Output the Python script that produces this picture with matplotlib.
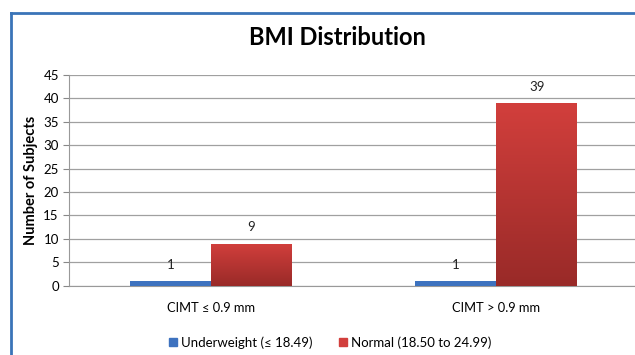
import numpy as np
import matplotlib.pyplot as plt
from matplotlib.colors import LinearSegmentedColormap
from matplotlib.patches import Patch

plt.rcParams['font.family'] = ['Lato', 'DejaVu Sans']

categories = ['CIMT \u2264 0.9 mm', 'CIMT > 0.9 mm']
underweight = [1, 1]
normal = [9, 39]
series_names = ['Underweight (\u2264 18.49)', 'Normal (18.50 to 24.99)']

blue = '#3d72bf'
red_top = '#d23f3c'
red_bottom = '#992a28'

fig = plt.figure(figsize=(6.35, 3.55), dpi=100)
ax = fig.add_axes([0.108, 0.195, 0.898, 0.594])

x = np.arange(len(categories))
w = 0.284
b1 = ax.bar(x - w / 2, underweight, w, color=blue, zorder=3)
b2 = ax.bar(x + w / 2, normal, w, color=red_top, zorder=3)

# vertical shading on the red bars
cmap = LinearSegmentedColormap.from_list('redgrad', [red_bottom, red_top])
grad = np.linspace(0, 1, 256).reshape(-1, 1)
for bar in b2:
    bx, by = bar.get_x(), bar.get_y()
    bw, bh = bar.get_width(), bar.get_height()
    im = ax.imshow(grad, cmap=cmap, origin='lower', aspect='auto',
                   extent=(bx, bx + bw, by, by + bh), zorder=4)
    im.set_clip_path(bar)

for bars, vals in ((b1, underweight), (b2, normal)):
    for bar, v in zip(bars, vals):
        ax.text(bar.get_x() + bar.get_width() / 2, v + 2.2, str(v),
                ha='center', va='bottom', fontsize=9.5, color='#222222', zorder=5)

ax.set_xlim(-0.5, 1.5)
ax.set_ylim(0, 45)
ax.set_yticks(range(0, 46, 5))
ax.set_xticks(x)
ax.set_xticklabels(categories, fontsize=9.3)
ax.tick_params(axis='y', labelsize=9.5, length=4, color='#888888', pad=3)
ax.tick_params(axis='x', length=0, pad=12)
ax.grid(axis='y', color='#a0a0a0', linewidth=0.9, zorder=0)
ax.set_axisbelow(True)
for s in ('top', 'right'):
    ax.spines[s].set_visible(False)
ax.spines['left'].set_color('#999999')
ax.spines['bottom'].set_color('#999999')
ax.set_ylabel('Number of Subjects', fontsize=10.5, fontweight='bold', labelpad=4)

fig.text(0.531, 0.893, 'BMI Distribution', ha='center', va='center',
         fontsize=17, fontweight='bold')

handles = [Patch(color=blue), Patch(color=red_top)]
fig.legend(handles, series_names, loc='center', bbox_to_anchor=(0.52, 0.035),
           ncol=2, frameon=False, fontsize=9.5, handlelength=0.6, handleheight=0.6,
           handletextpad=0.3, columnspacing=2.0)

# outer chart frame
fig.add_artist(plt.Line2D([0.017, 1.0], [0.962, 0.962], color='#3a74b8', lw=2,
                          transform=fig.transFigure))
fig.add_artist(plt.Line2D([0.017, 0.017], [0.0, 0.962], color='#3a74b8', lw=2,
                          transform=fig.transFigure))

fig.savefig('out.png', dpi=100)
